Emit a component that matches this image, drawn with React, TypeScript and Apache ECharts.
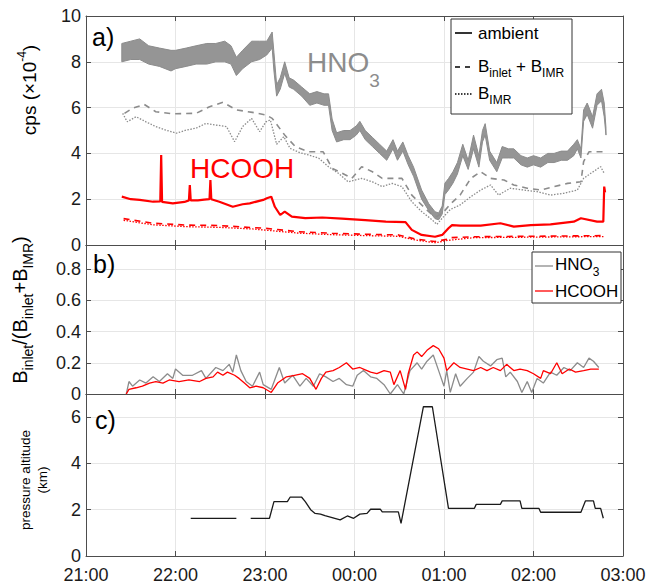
import React, { useEffect, useRef } from 'react';
import * as echarts from 'echarts';

const FONT = '"Liberation Sans", Arial, Helvetica, sans-serif';
const GRAY = '#8c8c8c';
const BAND = '#959595';
const RED = '#ff0000';
const INK = '#1a1a1a';
const AXIS = '#4d4d4d';
const GRID = '#e6e6e6';

// x values are hours after 21:00
const xTickLabels = ['21:00', '22:00', '23:00', '00:00', '01:00', '02:00', '03:00'];

// ---- panel a: HNO3 ambient (noisy band, low / high envelope) ----
const hno3AmbT = [0.40, 0.50, 0.60, 0.70, 0.82, 0.95, 1.00, 1.12, 1.23, 1.35, 1.45, 1.55, 1.62, 1.68, 1.75, 1.85, 1.94, 2.02, 2.08, 2.10, 2.13, 2.17, 2.22, 2.27, 2.32, 2.41, 2.50, 2.58, 2.66, 2.71, 2.75, 2.80, 2.88, 2.95, 3.02, 3.06, 3.12, 3.20, 3.28, 3.36, 3.43, 3.48, 3.54, 3.60, 3.66, 3.75, 3.83, 3.90, 3.94, 3.98, 4.01, 4.05, 4.10, 4.15, 4.21, 4.27, 4.33, 4.39, 4.43, 4.46, 4.51, 4.59, 4.65, 4.72, 4.78, 4.86, 4.93, 5.00, 5.08, 5.16, 5.23, 5.31, 5.38, 5.45, 5.49, 5.53, 5.56, 5.60, 5.66, 5.71, 5.76, 5.79, 5.81];
const hno3AmbLo = [8.0, 8.1, 8.1, 7.9, 7.8, 7.6, 7.7, 7.8, 7.9, 7.9, 8.0, 8.0, 7.9, 7.4, 7.7, 8.0, 8.1, 8.3, 8.6, 7.6, 6.5, 6.8, 7.5, 6.9, 6.8, 6.5, 6.1, 6.2, 6.1, 6.1, 5.0, 4.5, 4.6, 4.6, 4.8, 5.0, 4.6, 4.3, 4.0, 3.7, 4.2, 3.7, 4.1, 3.5, 3.0, 2.0, 1.5, 1.15, 1.1, 1.35, 2.2, 2.4, 2.7, 3.1, 3.9, 3.3, 4.2, 3.4, 4.5, 4.8, 3.7, 3.2, 3.8, 3.8, 3.8, 3.5, 3.4, 3.5, 3.4, 3.6, 3.6, 3.7, 3.7, 3.9, 4.2, 3.8, 5.4, 5.7, 5.1, 6.1, 6.3, 5.6, 4.8];
const hno3AmbHi = [8.8, 8.9, 9.0, 8.7, 8.6, 8.5, 8.5, 8.6, 8.7, 8.8, 8.8, 8.9, 8.7, 8.2, 8.5, 8.9, 8.9, 8.9, 9.3, 8.4, 7.0, 7.3, 8.0, 7.3, 7.2, 6.9, 6.6, 6.7, 6.6, 6.6, 5.5, 4.9, 5.0, 5.0, 5.2, 5.4, 5.0, 4.7, 4.4, 4.1, 4.6, 4.1, 4.5, 3.9, 3.4, 2.4, 1.8, 1.45, 1.4, 1.7, 2.7, 2.9, 3.2, 3.6, 4.4, 3.7, 4.8, 3.9, 5.0, 5.3, 4.1, 3.6, 4.3, 4.2, 4.2, 3.9, 3.8, 3.9, 3.8, 4.0, 4.0, 4.1, 4.1, 4.4, 4.6, 4.2, 5.9, 6.2, 5.6, 6.6, 6.8, 6.2, 5.1];

// HNO3 B_inlet + B_IMR (dashed)
const hno3BgT = [0.43, 0.52, 0.65, 0.78, 0.97, 1.23, 1.38, 1.53, 1.68, 1.86, 2.01, 2.08, 2.22, 2.34, 2.49, 2.65, 2.75, 2.90, 2.97, 3.08, 3.20, 3.31, 3.42, 3.53, 3.64, 3.75, 3.87, 3.92, 4.00, 4.07, 4.18, 4.30, 4.41, 4.52, 4.67, 4.78, 4.93, 5.08, 5.23, 5.38, 5.53, 5.56, 5.62, 5.79];
const hno3BgV = [5.75, 5.97, 6.14, 5.82, 5.73, 5.75, 6.04, 6.23, 5.90, 5.79, 5.68, 5.53, 4.80, 4.29, 4.07, 4.07, 3.35, 3.06, 2.91, 3.42, 3.20, 2.91, 2.91, 2.91, 2.18, 1.75, 1.31, 1.24, 1.46, 1.78, 2.18, 2.91, 3.20, 2.91, 2.84, 2.62, 2.48, 2.40, 2.55, 2.69, 2.76, 3.64, 4.07, 4.07];

// HNO3 B_IMR (dotted)
const hno3ImrT = [0.41, 0.46, 0.56, 0.67, 0.78, 0.89, 1.01, 1.12, 1.23, 1.34, 1.45, 1.57, 1.66, 1.75, 1.85, 1.94, 2.01, 2.06, 2.13, 2.21, 2.28, 2.39, 2.49, 2.60, 2.71, 2.82, 2.93, 3.08, 3.20, 3.31, 3.42, 3.53, 3.64, 3.75, 3.87, 3.92, 3.98, 4.07, 4.18, 4.30, 4.41, 4.52, 4.61, 4.74, 4.89, 5.04, 5.19, 5.34, 5.49, 5.56, 5.64, 5.75, 5.79];
const hno3ImrV = [5.75, 5.38, 5.60, 5.38, 5.17, 5.02, 4.88, 5.02, 5.10, 5.31, 5.24, 5.17, 4.51, 5.17, 5.53, 4.95, 5.38, 5.46, 4.40, 4.73, 4.22, 4.03, 3.93, 3.79, 3.42, 3.13, 2.76, 2.91, 2.76, 2.55, 2.69, 2.55, 1.89, 1.46, 1.09, 0.90, 1.17, 1.55, 1.75, 2.11, 2.40, 2.62, 2.18, 2.48, 2.40, 2.33, 2.18, 2.26, 2.40, 2.91, 3.13, 3.42, 3.13];

// HCOOH ambient
const hcoohAmbT = [0.40, 0.50, 0.60, 0.75, 0.83, 0.84, 0.85, 0.97, 1.10, 1.15, 1.16, 1.17, 1.25, 1.32, 1.38, 1.39, 1.40, 1.49, 1.64, 1.75, 1.83, 1.98, 2.02, 2.07, 2.11, 2.17, 2.22, 2.30, 2.45, 2.64, 2.86, 3.12, 3.35, 3.57, 3.64, 3.75, 3.90, 3.98, 4.05, 4.09, 4.18, 4.41, 4.63, 4.78, 4.97, 5.19, 5.45, 5.53, 5.71, 5.78, 5.79, 5.80];
const hcoohAmbV = [2.11, 2.00, 1.97, 1.89, 1.90, 3.93, 1.88, 1.82, 1.88, 1.95, 2.62, 1.95, 1.95, 1.98, 2.00, 2.84, 2.00, 1.89, 1.67, 1.78, 1.82, 1.97, 2.04, 2.11, 1.67, 1.31, 1.46, 1.24, 1.17, 1.20, 1.15, 1.09, 1.02, 1.00, 0.66, 0.44, 0.36, 0.44, 0.73, 0.87, 0.85, 0.85, 0.95, 0.80, 0.87, 0.90, 1.02, 1.17, 1.02, 1.02, 2.55, 2.30];

// HCOOH B_inlet + B_IMR (dashed)
const hcoohBgT = [0.42, 0.75, 1.12, 1.49, 1.86, 2.00, 2.37, 2.75, 3.12, 3.49, 3.68, 3.90, 4.04, 4.07, 4.33, 5.79];
const hcoohBgV = [1.15, 0.95, 0.87, 0.85, 0.76, 0.73, 0.58, 0.51, 0.47, 0.44, 0.26, 0.15, 0.26, 0.32, 0.36, 0.41];

// HCOOH B_IMR (dotted)
const hcoohImrT = [0.42, 0.75, 1.12, 1.49, 1.86, 2.37, 2.75, 3.12, 3.49, 3.68, 3.90, 4.04, 4.33, 5.79];
const hcoohImrV = [1.08, 0.88, 0.80, 0.77, 0.70, 0.52, 0.45, 0.41, 0.38, 0.22, 0.10, 0.20, 0.32, 0.37];

// ---- panel b: B_inlet / (B_inlet + B_IMR) ----
const fracHno3T = [0.45, 0.48, 0.52, 0.60, 0.67, 0.75, 0.82, 0.91, 0.97, 1.00, 1.08, 1.19, 1.29, 1.34, 1.45, 1.53, 1.60, 1.64, 1.68, 1.73, 1.79, 1.86, 1.94, 1.98, 2.07, 2.16, 2.22, 2.31, 2.39, 2.46, 2.54, 2.61, 2.68, 2.76, 2.83, 2.91, 2.98, 3.03, 3.10, 3.18, 3.25, 3.33, 3.40, 3.48, 3.55, 3.62, 3.70, 3.75, 3.81, 3.88, 3.94, 4.00, 4.03, 4.07, 4.13, 4.18, 4.26, 4.33, 4.39, 4.44, 4.52, 4.59, 4.65, 4.69, 4.74, 4.82, 4.87, 4.93, 4.98, 5.04, 5.11, 5.19, 5.26, 5.34, 5.41, 5.49, 5.56, 5.62, 5.67, 5.73];
const fracHno3V = [0.00, 0.08, 0.05, 0.09, 0.07, 0.11, 0.08, 0.13, 0.10, 0.16, 0.12, 0.12, 0.15, 0.10, 0.17, 0.15, 0.19, 0.14, 0.25, 0.15, 0.08, 0.05, 0.14, 0.06, 0.03, 0.17, 0.07, 0.12, 0.05, 0.10, 0.05, 0.13, 0.11, 0.08, 0.10, 0.06, 0.05, 0.12, 0.15, 0.11, 0.10, 0.06, 0.00, 0.06, 0.00, 0.15, 0.20, 0.16, 0.21, 0.25, 0.15, 0.05, 0.15, 0.01, 0.13, 0.05, 0.10, 0.14, 0.24, 0.21, 0.18, 0.22, 0.23, 0.11, 0.14, 0.08, 0.01, 0.08, 0.01, 0.10, 0.07, 0.14, 0.12, 0.17, 0.15, 0.20, 0.17, 0.23, 0.21, 0.17];
const fracHcoohT = [0.45, 0.48, 0.56, 0.63, 0.71, 0.78, 0.86, 0.93, 1.04, 1.15, 1.27, 1.34, 1.42, 1.47, 1.53, 1.58, 1.66, 1.71, 1.77, 1.83, 1.90, 1.98, 2.07, 2.14, 2.24, 2.33, 2.42, 2.50, 2.57, 2.63, 2.68, 2.76, 2.83, 2.91, 2.98, 3.06, 3.10, 3.18, 3.25, 3.33, 3.40, 3.44, 3.51, 3.57, 3.60, 3.66, 3.70, 3.75, 3.81, 3.88, 3.94, 4.00, 4.03, 4.11, 4.18, 4.26, 4.33, 4.41, 4.48, 4.55, 4.63, 4.70, 4.78, 4.85, 4.93, 5.00, 5.08, 5.11, 5.19, 5.26, 5.32, 5.40, 5.47, 5.56, 5.64, 5.73];
const fracHcoohV = [0.00, 0.03, 0.04, 0.05, 0.07, 0.08, 0.07, 0.09, 0.08, 0.09, 0.08, 0.10, 0.11, 0.14, 0.12, 0.14, 0.12, 0.10, 0.07, 0.04, 0.05, 0.04, 0.01, 0.07, 0.11, 0.12, 0.13, 0.10, 0.03, 0.10, 0.14, 0.15, 0.17, 0.20, 0.16, 0.17, 0.16, 0.14, 0.13, 0.15, 0.14, 0.06, 0.15, 0.03, 0.13, 0.25, 0.27, 0.24, 0.28, 0.31, 0.29, 0.23, 0.15, 0.20, 0.17, 0.16, 0.15, 0.17, 0.15, 0.17, 0.15, 0.19, 0.15, 0.16, 0.15, 0.13, 0.10, 0.15, 0.13, 0.20, 0.13, 0.16, 0.14, 0.15, 0.16, 0.16];

// ---- panel c: pressure altitude (km) ----
const altT = [1.17, 1.68, 1.76, 1.84, 2.05, 2.10, 2.25, 2.28, 2.41, 2.45, 2.51, 2.56, 2.62, 2.67, 2.73, 2.84, 2.92, 2.99, 3.06, 3.14, 3.18, 3.29, 3.31, 3.49, 3.52, 3.77, 3.87, 4.05, 4.34, 4.36, 4.63, 4.65, 4.85, 4.87, 5.06, 5.08, 5.53, 5.58, 5.67, 5.69, 5.75, 5.78];
const altV = [1.63, 1.63, null, 1.63, 1.63, 2.35, 2.35, 2.54, 2.54, 2.35, 2.00, 1.84, 1.81, 1.74, 1.68, 1.56, 1.73, 1.63, 1.81, 1.84, 2.02, 2.02, 1.91, 1.91, 1.41, 6.45, 6.45, 2.06, 2.06, 2.23, 2.23, 2.38, 2.38, 2.06, 2.06, 1.89, 1.89, 2.38, 2.38, 2.06, 2.06, 1.63];

const zip = (t: number[], v: (number | null)[]) => t.map((x, i) => [x, v[i] === null ? '-' : v[i]]);

const GRIDS = [
  { left: 86, top: 16, width: 537, height: 229 },
  { left: 86, top: 245, width: 537, height: 149 },
  { left: 86, top: 394, width: 537, height: 162 },
];
const Y_RANGES = [
  { min: 0, max: 10, interval: 2 },
  { min: 0, max: 0.955, interval: 0.2 },
  { min: 0, max: 7, interval: 2 },
];

export default function App() {
  const ref = useRef<HTMLDivElement>(null);
  useEffect(() => {
    if (!ref.current) return;
    const chart = echarts.init(ref.current, null, { renderer: 'svg' });

    const tick = { show: true, inside: true, length: 5, lineStyle: { color: AXIS, width: 1 } };
    const line = { show: true, onZero: false, lineStyle: { color: AXIS, width: 1 } };

    const xAxes: any[] = [];
    [0, 1, 2].forEach((g) => {
      xAxes.push({
        type: 'value', gridIndex: g, position: 'bottom', min: 0, max: 6, interval: 1,
        axisLine: line, axisTick: tick,
        splitLine: { show: true, lineStyle: { color: GRID, width: 1 } },
        axisLabel: {
          show: g === 2, color: INK, fontSize: 18, fontFamily: FONT, margin: 10,
          formatter: (v: number) => xTickLabels[Math.round(v)] ?? '',
        },
      });
    });
    [0, 1, 2].forEach((g) => {
      xAxes.push({
        type: 'value', gridIndex: g, position: 'top', min: 0, max: 6, interval: 1,
        axisLine: line, axisTick: tick, splitLine: { show: false }, axisLabel: { show: false },
      });
    });
    const yAxes: any[] = [];
    [0, 1, 2].forEach((g) => {
      yAxes.push({
        type: 'value', gridIndex: g, position: 'left', ...Y_RANGES[g],
        axisLine: line, axisTick: tick,
        splitLine: { show: true, lineStyle: { color: GRID, width: 1 } },
        axisLabel: { color: INK, fontSize: 18, fontFamily: FONT, margin: 5, showMaxLabel: g === 0 },
      });
    });
    [0, 1, 2].forEach((g) => {
      yAxes.push({
        type: 'value', gridIndex: g, position: 'right', ...Y_RANGES[g],
        axisLine: line, axisTick: tick, splitLine: { show: false }, axisLabel: { show: false },
      });
    });

    const lineSeries = (x: number, y: number, data: any[], color: string, width: number, type: any) => ({
      type: 'line', xAxisIndex: x, yAxisIndex: y, data, showSymbol: false, symbol: 'none',
      lineStyle: { color, width, type }, itemStyle: { color }, silent: true, connectNulls: false,
    });

    const series: any[] = [
      lineSeries(0, 0, zip(hno3BgT, hno3BgV), GRAY, 1.6, [6, 5]),
      lineSeries(0, 0, zip(hno3ImrT, hno3ImrV), GRAY, 1.3, [1.5, 1.5]),
      {
        type: 'custom', xAxisIndex: 0, yAxisIndex: 0, data: [[3, 5]], silent: true,
        renderItem: (_p: any, api: any) => {
          const pts: number[][] = [];
          for (let i = 0; i < hno3AmbT.length; i++) pts.push(api.coord([hno3AmbT[i], hno3AmbHi[i]]));
          for (let i = hno3AmbT.length - 1; i >= 0; i--) pts.push(api.coord([hno3AmbT[i], hno3AmbLo[i]]));
          return { type: 'polygon', shape: { points: pts }, style: { fill: BAND, stroke: GRAY, lineWidth: 1 } };
        },
      },
      lineSeries(0, 0, zip(hcoohBgT, hcoohBgV), RED, 1.6, [6, 5]),
      lineSeries(0, 0, zip(hcoohImrT, hcoohImrV), RED, 1.3, [1.5, 1.5]),
      lineSeries(0, 0, zip(hcoohAmbT, hcoohAmbV), RED, 2.2, 'solid'),
      lineSeries(1, 1, zip(fracHno3T, fracHno3V), GRAY, 1.3, 'solid'),
      lineSeries(1, 1, zip(fracHcoohT, fracHcoohV), RED, 1.3, 'solid'),
      lineSeries(2, 2, zip(altT, altV), INK, 1.3, 'solid'),
    ];

    const m = (size: number, fill: string, lh: number) => ({ fontSize: size, fontFamily: FONT, fill, lineHeight: lh, verticalAlign: 'middle' });
    const s = (size: number, fill: string, lh: number, va: string) => ({ fontSize: size, fontFamily: FONT, fill, lineHeight: lh, verticalAlign: va });

    const graphic: any[] = [
      // panel labels
      { type: 'text', x: 92, y: 37, z: 100, style: { text: 'a)', fill: '#000', fontSize: 25, fontFamily: FONT, align: 'left', verticalAlign: 'middle' } },
      { type: 'text', x: 93, y: 264, z: 100, style: { text: 'b)', fill: '#000', fontSize: 25, fontFamily: FONT, align: 'left', verticalAlign: 'middle' } },
      { type: 'text', x: 95, y: 420, z: 100, style: { text: 'c)', fill: '#000', fontSize: 25, fontFamily: FONT, align: 'left', verticalAlign: 'middle' } },
      // species labels
      {
        type: 'text', x: 307, y: 62, z: 100,
        style: { text: '{m|HNO}{s|3}', align: 'left', verticalAlign: 'middle', rich: { m: m(28, GRAY, 56), s: s(19, GRAY, 16, 'bottom') } },
      },
      { type: 'text', x: 190, y: 168, z: 100, style: { text: 'HCOOH', fill: RED, fontSize: 28, fontFamily: FONT, align: 'left', verticalAlign: 'middle' } },
      // y axis titles
      {
        type: 'text', x: 29, y: 90, rotation: Math.PI / 2, z: 100,
        style: { text: '{m|cps (×10}{p|-4}{m|)}', align: 'center', verticalAlign: 'middle', rich: { m: m(19, '#000', 26), p: s(12, '#000', 10, 'top') } },
      },
      {
        type: 'text', x: 20, y: 310, rotation: Math.PI / 2, z: 100,
        style: {
          text: '{m|B}{s|inlet}{m|/(B}{s|inlet}{m|+B}{s|IMR}{m|)}', align: 'center', verticalAlign: 'middle',
          rich: { m: m(20, '#000', 30), s: s(14, '#000', 13, 'bottom') },
        },
      },
      {
        type: 'text', x: 34, y: 480, rotation: Math.PI / 2, z: 100,
        style: { text: 'pressure altitude\n(km)', fill: '#000', fontSize: 13.5, fontFamily: FONT, lineHeight: 17, align: 'center', verticalAlign: 'middle' },
      },
      // legend a
      { type: 'rect', z: 100, shape: { x: 451, y: 19, width: 121, height: 95 }, style: { fill: '#fff', stroke: '#333', lineWidth: 1 } },
      { type: 'line', z: 101, shape: { x1: 455, y1: 33, x2: 472, y2: 33 }, style: { stroke: '#000', lineWidth: 1.6 } },
      { type: 'line', z: 101, shape: { x1: 455, y1: 67, x2: 472, y2: 67 }, style: { stroke: '#000', lineWidth: 1.6, lineDash: [5, 5] } },
      { type: 'line', z: 101, shape: { x1: 455, y1: 94, x2: 472, y2: 94 }, style: { stroke: '#000', lineWidth: 1.3, lineDash: [1.5, 1.5] } },
      { type: 'text', x: 478, y: 33, z: 101, style: { text: 'ambient', fill: '#000', fontSize: 17, fontFamily: FONT, align: 'left', verticalAlign: 'middle' } },
      {
        type: 'text', x: 478, y: 66, z: 101,
        style: { text: '{m|B}{s|inlet}{m| + B}{s|IMR}', align: 'left', verticalAlign: 'middle', rich: { m: m(17, '#000', 26), s: s(12, '#000', 11, 'bottom') } },
      },
      {
        type: 'text', x: 478, y: 93, z: 101,
        style: { text: '{m|B}{s|IMR}', align: 'left', verticalAlign: 'middle', rich: { m: m(17, '#000', 26), s: s(12, '#000', 11, 'bottom') } },
      },
      // legend b
      { type: 'rect', z: 100, shape: { x: 532, y: 252, width: 89, height: 51 }, style: { fill: '#fff', stroke: '#333', lineWidth: 1 } },
      { type: 'line', z: 101, shape: { x1: 535, y1: 266, x2: 553, y2: 266 }, style: { stroke: GRAY, lineWidth: 1.3 } },
      { type: 'line', z: 101, shape: { x1: 535, y1: 291, x2: 553, y2: 291 }, style: { stroke: RED, lineWidth: 1.3 } },
      {
        type: 'text', x: 555, y: 264, z: 101,
        style: { text: '{m|HNO}{s|3}', align: 'left', verticalAlign: 'middle', rich: { m: m(17, '#000', 28), s: s(12, '#000', 11, 'bottom') } },
      },
      { type: 'text', x: 555, y: 291, z: 101, style: { text: 'HCOOH', fill: '#000', fontSize: 17, fontFamily: FONT, align: 'left', verticalAlign: 'middle' } },
    ];

    chart.setOption({
      animation: false,
      backgroundColor: '#fff',
      grid: GRIDS.map((g) => ({ ...g, containLabel: false })),
      xAxis: xAxes,
      yAxis: yAxes,
      series,
      graphic,
    });
    return () => chart.dispose();
  }, []);
  return <div ref={ref} style={{ position: 'absolute', left: 0, top: 0, width: 649, height: 585, background: '#fff' }} />;
}
